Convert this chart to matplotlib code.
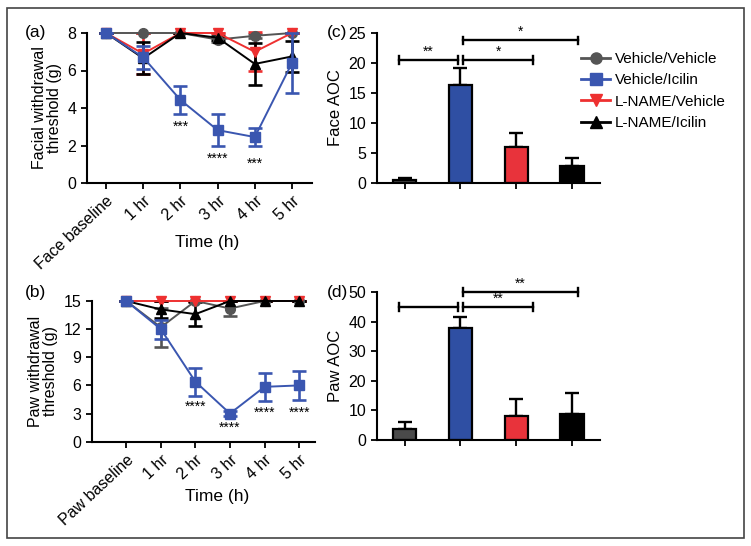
import matplotlib
matplotlib.use("Agg")
import matplotlib.pyplot as plt
from matplotlib.lines import Line2D
from matplotlib.patches import Rectangle
import numpy as np

plt.rcParams['font.family'] = ['Liberation Sans', 'DejaVu Sans']

# ---------------- data ----------------
groups = ["Vehicle/Vehicle", "Vehicle/Icilin", "L-NAME/Vehicle", "L-NAME/Icilin"]
face_times = ["Face baseline", "1 hr", "2 hr", "3 hr", "4 hr", "5 hr"]
paw_times = ["Paw baseline", "1 hr", "2 hr", "3 hr", "4 hr", "5 hr"]

face_vv = [8, 8, 8, 7.65, 7.85, 8]
face_vv_err = [0, 0, 0, 0.15, 0.1, 0]
face_vi = [8, 6.7, 4.43, 2.82, 2.45, 6.4]
face_vi_err = [0, 0.6, 0.77, 0.87, 0.5, 1.6]
face_lv = [8, 6.9, 8, 8, 7.0, 8]
face_lv_err = [0, 1.1, 0, 0, 1.05, 0]
face_li = [8, 6.65, 8, 7.75, 6.35, 6.75]
face_li_err = [0, 0.85, 0, 0.1, 1.1, 0.85]

paw_vv = [15, 12.2, 15, 14.2, 15, 15]
paw_vv_err = [0, 2.1, 0, 0.75, 0, 0]
paw_vi = [15, 12.0, 6.4, 3.0, 5.85, 6.0]
paw_vi_err = [0, 1.0, 1.5, 0.3, 1.5, 1.55]
paw_lv = [15, 15, 15, 15, 15, 15]
paw_lv_err = [0, 0, 0, 0, 0, 0]
paw_li = [15, 14.1, 13.6, 15, 15, 15]
paw_li_err = [0, 0.9, 1.3, 0, 0, 0]

face_aoc = [0.5, 16.4, 6.0, 2.85]
face_aoc_err = [0.25, 2.75, 2.3, 1.25]
paw_aoc = [3.6, 37.7, 8.2, 8.7]
paw_aoc_err = [2.6, 4.0, 5.65, 7.1]

face_stars = {2: ("***", 3.0), 3: ("****", 1.3), 4: ("***", 1.05)}
paw_stars = {2: ("****", 3.7), 3: ("****", 1.45), 4: ("****", 3.1), 5: ("****", 3.1)}

# bracket: (x start, x end, y, label)
face_brackets = [(-0.1, 0.95, 20.5, "**"), (1.05, 2.3, 20.5, "*"), (1.05, 3.1, 23.8, "*")]
paw_brackets = [(-0.1, 0.95, 45, ""), (1.05, 2.3, 45, "**"), (1.05, 3.1, 50, "**")]

# ---------------- style ----------------
line_colors = ["#555555", "#3a56b0", "#ee3030", "#000000"]
bar_colors = ["#4a4a4a", "#2f4fa3", "#e8333b", "#000000"]
markers = ["o", "s", "v", "^"]

W, H = 751, 546
fig = plt.figure(figsize=(W / 100, H / 100), dpi=100)


def ax_px(l, r, t, b):
    return fig.add_axes([l / W, (H - b) / H, (r - l) / W, (b - t) / H])


def style(ax):
    for s in ["top", "right"]:
        ax.spines[s].set_visible(False)
    for s in ["left", "bottom"]:
        ax.spines[s].set_linewidth(1.5)
    ax.tick_params(direction="out", length=4, width=1.3, labelsize=11.5)


def line_panel(ax, times, series, errs, ylim, yticks, ylabel, stars, xlim, xlab_pos):
    x = np.arange(len(times))
    for k in range(4):
        ax.errorbar(x, series[k], yerr=errs[k], color=line_colors[k], marker=markers[k],
                    markersize=7, lw=1.4, elinewidth=1.9, capsize=5, capthick=1.9,
                    clip_on=False, zorder=3 + (1 if k == 1 else 0))
    ax.set_ylim(*ylim)
    ax.set_yticks(yticks)
    ax.set_xlim(*xlim)
    ax.set_xticks(x)
    ax.set_xticklabels(times, rotation=43, ha="right", rotation_mode="anchor", fontsize=11.5)
    ax.set_ylabel(ylabel, fontsize=11.5, linespacing=1.0)
    ax.set_xlabel("Time (h)", fontsize=12.5, va="center")
    ax.xaxis.set_label_coords(*xlab_pos)
    for i, (s, y) in stars.items():
        ax.text(i, y, s, ha="center", va="center", fontsize=10)
    style(ax)


def bar_panel(ax, vals, errs, ylim, yticks, ylabel, brackets):
    x = np.arange(4)
    ax.bar(x, vals, width=0.42, color=bar_colors, edgecolor="black", linewidth=1.6, zorder=2)
    ax.errorbar(x, vals, yerr=[np.zeros(4), errs], fmt="none", ecolor="black",
                elinewidth=1.7, capsize=5, capthick=1.7, zorder=1)
    ax.set_ylim(*ylim)
    ax.set_yticks(yticks)
    ax.set_xlim(-0.5, 3.5)
    ax.set_xticks(x)
    ax.set_xticklabels([])
    ax.set_ylabel(ylabel, fontsize=12)
    h = (ylim[1] - ylim[0]) * 0.025
    for (a, b, y, lab) in brackets:
        ax.plot([a, b], [y, y], color="black", lw=1.7, clip_on=False)
        ax.plot([a, a], [y - h, y + h], color="black", lw=1.7, clip_on=False)
        ax.plot([b, b], [y - h, y + h], color="black", lw=1.7, clip_on=False)
        if lab:
            ax.text((a + b) / 2, y + h * 0.4, lab, ha="center", va="bottom", fontsize=10)
    style(ax)


ax_a = ax_px(86.7, 311.7, 33, 183)
line_panel(ax_a, face_times, [face_vv, face_vi, face_lv, face_li],
           [face_vv_err, face_vi_err, face_lv_err, face_li_err],
           (0, 8), [0, 2, 4, 6, 8], "Facial withdrawal\nthreshold (g)", face_stars,
           (-0.52, 5.53), (0.535, -0.40))

ax_b = ax_px(91.7, 315, 301, 441.7)
line_panel(ax_b, paw_times, [paw_vv, paw_vi, paw_lv, paw_li],
           [paw_vv_err, paw_vi_err, paw_lv_err, paw_li_err],
           (0, 15), [0, 3, 6, 9, 12, 15], "Paw withdrawal\nthreshold (g)", paw_stars,
           (-1.0, 5.46), (0.56, -0.393))

ax_c = ax_px(376.7, 600, 33.3, 182.7)
bar_panel(ax_c, face_aoc, face_aoc_err, (0, 25), [0, 5, 10, 15, 20, 25], "Face AOC", face_brackets)

ax_d = ax_px(376.7, 600, 292, 440)
bar_panel(ax_d, paw_aoc, paw_aoc_err, (0, 50), [0, 10, 20, 30, 40, 50], "Paw AOC", paw_brackets)

# panel letters
for txt, px, py in [("(a)", 25, 33), ("(b)", 25, 293), ("(c)", 327, 33), ("(d)", 327, 293)]:
    fig.text(px / W, 1 - py / H, txt, fontsize=12.5, ha="left", va="center")

# legend
handles = [Line2D([0], [0], color=line_colors[k], marker=markers[k], markersize=8, lw=2)
           for k in range(4)]
fig.legend(handles, groups, loc="upper left", bbox_to_anchor=(581 / W, 1 - 52 / H),
           frameon=False, fontsize=11, handlelength=1.9, handletextpad=0.33,
           labelspacing=0.48, borderaxespad=0, borderpad=0)

# outer border
fig.patches.append(Rectangle((7 / W, 8 / H), 737 / W, 530 / H, transform=fig.transFigure,
                             fill=False, edgecolor="#444444", lw=1.2))

fig.savefig("out.png", dpi=100)
